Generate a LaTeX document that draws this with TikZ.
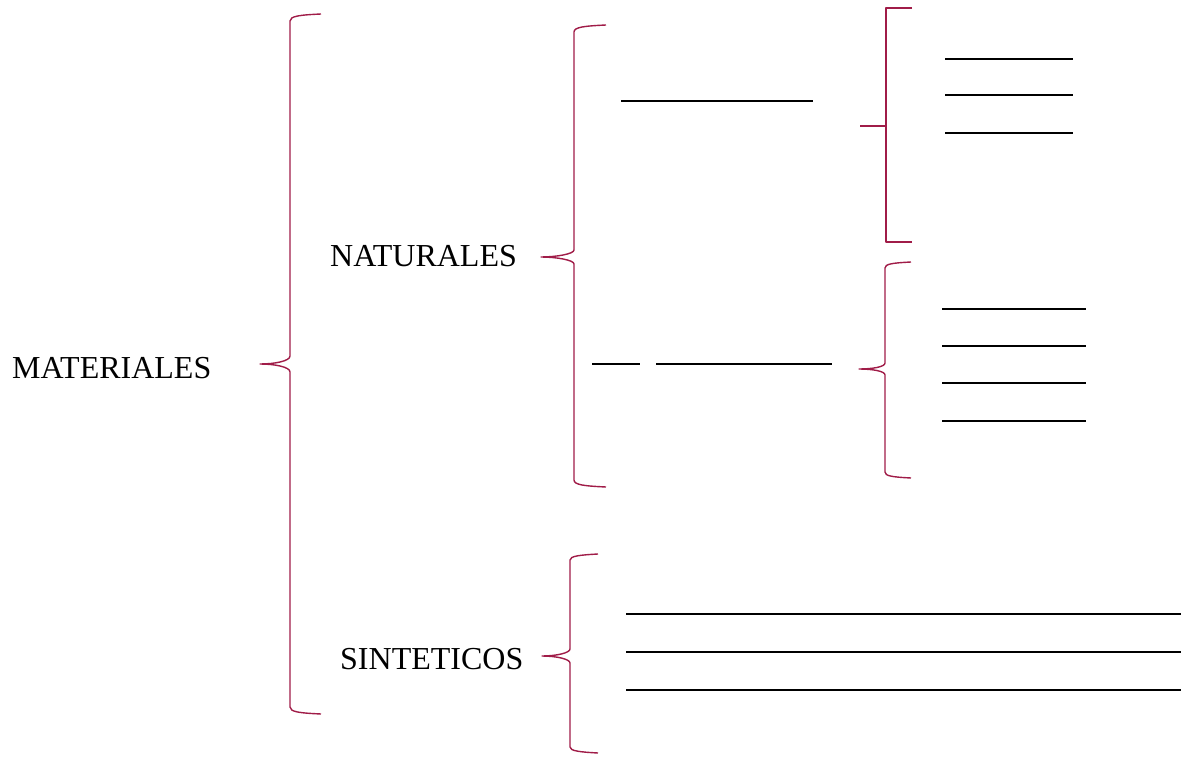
\documentclass[tikz,border=0pt]{standalone}
\usepackage{fontspec}
\setmainfont{Liberation Serif}
\definecolor{vino}{RGB}{160,28,72}

\begin{document}
\begin{tikzpicture}[x=1pt,y=-1pt,
   llave/.style={draw=vino,line width=1.4pt,line join=round},
   raya/.style={draw=black,line width=1.5pt},
   titulo/.style={anchor=base west,inner sep=0pt,font=\fontsize{32}{38}\selectfont}]
   \useasboundingbox (0,0) rectangle (1181,757);
   % textos
   \node[titulo] (materiales) at (12,378) {MATERIALES};
   \node[titulo] (naturales)  at (330,266) {NATURALES};
   \node[titulo] (sinteticos) at (340,669) {SINTETICOS};
   % llave grande
   \path[llave] (321,14) .. controls (300,15) and (290,16) .. (290,21) -- (290,356)
      .. controls (290,361) and (275,364) .. (260,364)
      .. controls (275,364) and (290,367) .. (290,372) -- (290,707)
      .. controls (290,712) and (300,713) .. (321,714);
   % llave de naturales
   \path[llave] (606,25) .. controls (585,26) and (574,27) .. (574,32) -- (574,250)
      .. controls (574,254) and (556,257) .. (541,257)
      .. controls (556,257) and (574,260) .. (574,264) -- (574,480)
      .. controls (574,485) and (585,486) .. (606,487);
   % corchete de arriba
   \path[llave] (912,8) -- (886,8) -- (886,242) -- (912,242)
      (860,126) -- (886,126);
   % llave del medio
   \path[llave] (911,262) .. controls (892,263) and (885,264) .. (885,268) -- (885,363)
      .. controls (885,367) and (872,369) .. (859,369)
      .. controls (872,369) and (885,371) .. (885,375) -- (885,472)
      .. controls (885,476) and (892,477) .. (911,478);
   % llave de sinteticos
   \path[llave] (598,554) .. controls (580,555) and (570,556) .. (570,560) -- (570,649)
      .. controls (570,653) and (556,656) .. (542,656)
      .. controls (556,656) and (570,659) .. (570,663) -- (570,747)
      .. controls (570,751) and (580,752) .. (598,753);
   % rayas para llenar
   \path[raya] (621,101) -- (813,101);
   \path[raya] (945,59) -- (1073,59);
   \path[raya] (945,95) -- (1073,95);
   \path[raya] (945,133) -- (1073,133);
   \path[raya] (592,364) -- (640,364);
   \path[raya] (656,364) -- (832,364);
   \path[raya] (942,309) -- (1086,309);
   \path[raya] (942,346) -- (1086,346);
   \path[raya] (942,383) -- (1086,383);
   \path[raya] (942,421) -- (1086,421);
   \path[raya] (626,614) -- (1181,614);
   \path[raya] (626,652) -- (1181,652);
   \path[raya] (626,690) -- (1181,690);
\end{tikzpicture}
\end{document}
